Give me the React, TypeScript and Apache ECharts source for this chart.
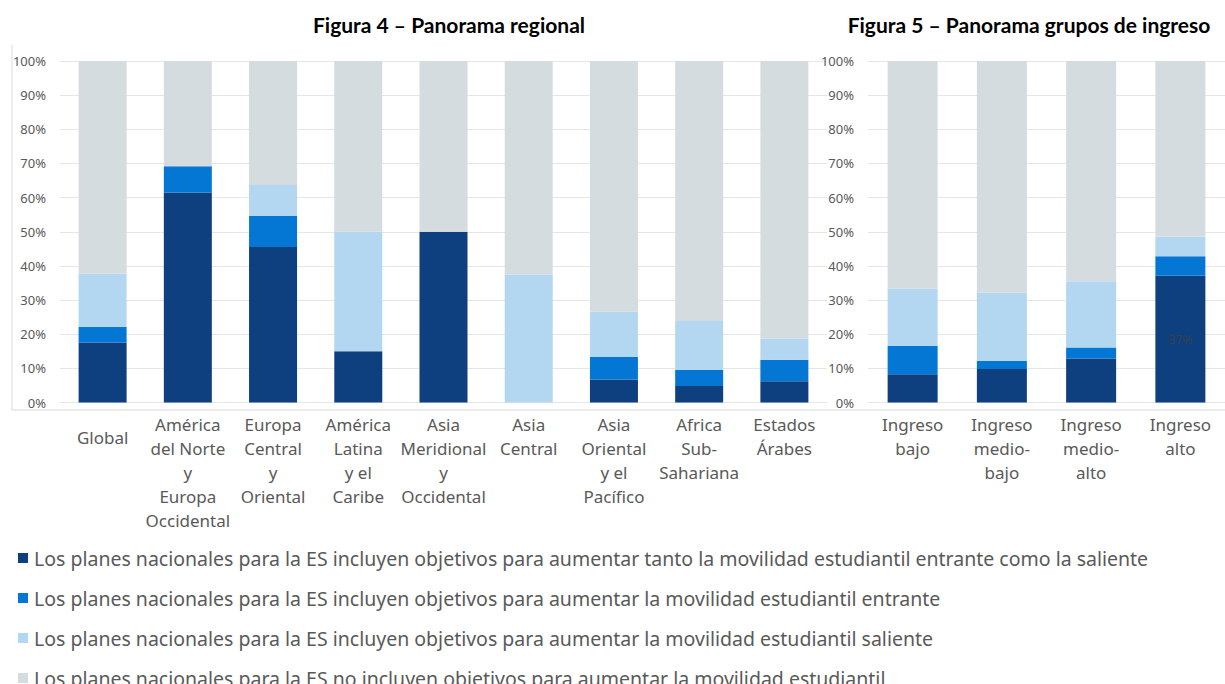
import React, { useEffect, useRef } from "react";
import * as echarts from "echarts";

const regionCategories = [
  "Global",
  "América\ndel Norte\ny\nEuropa\nOccidental",
  "Europa\nCentral\ny\nOriental",
  "América\nLatina\ny el\nCaribe",
  "Asia\nMeridional\ny\nOccidental",
  "Asia\nCentral",
  "Asia\nOriental\ny el\nPacífico",
  "Africa\nSub-\nSahariana",
  "Estados\nÁrabes",
];
const regionBoth = [17.6, 61.5, 45.5, 15, 50, 0, 6.7, 4.8, 6.25];
const regionIn = [4.6, 7.7, 9.1, 0, 0, 0, 6.6, 4.8, 6.25];
const regionOut = [15.5, 0, 9.1, 35, 0, 37.5, 13.3, 14.3, 6.25];
const regionNone = [62.3, 30.8, 36.3, 50, 50, 62.5, 73.4, 76.1, 81.25];

const incomeCategories = ["Ingreso\nbajo", "Ingreso\nmedio-\nbajo", "Ingreso\nmedio-\nalto", "Ingreso\nalto"];
const incomeBoth = [8.3, 9.8, 12.9, 37.1];
const incomeIn = [8.3, 2.4, 3.2, 5.7];
const incomeOut = [16.7, 20.0, 19.4, 5.7];
const incomeNone = [66.7, 67.8, 64.5, 51.5];

const seriesNames = [
  "Los planes nacionales para la ES incluyen objetivos para aumentar tanto la movilidad estudiantil entrante como la saliente",
  "Los planes nacionales para la ES incluyen objetivos para aumentar la movilidad estudiantil entrante",
  "Los planes nacionales para la ES incluyen objetivos para aumentar la movilidad estudiantil saliente",
  "Los planes nacionales para la ES no incluyen objetivos para aumentar la movilidad estudiantil",
];
const colors = ["#0E3F7E", "#0477D4", "#B3D6F1", "#D5DCE0"];

const titles = ["Figura 4 – Panorama regional", "Figura 5 – Panorama grupos de ingreso"];
const yTicks = { min: 0, max: 100, interval: 10 };

const FONT = "'Noto Sans', 'Open Sans', sans-serif";
const TEXT = "#595959";

export default function App() {
  const ref = useRef<HTMLDivElement>(null);
  useEffect(() => {
    if (!ref.current) return;
    const chart = echarts.init(ref.current, undefined, { renderer: "svg" });

    const yAxisBase = (gridIndex: number) => ({
      type: "value",
      gridIndex,
      min: yTicks.min,
      max: yTicks.max,
      interval: yTicks.interval,
      axisLine: { show: false },
      axisTick: { show: false },
      splitLine: { lineStyle: { color: "#E6E6E6", width: 1 } },
      axisLabel: {
        formatter: "{value}%",
        color: TEXT,
        fontFamily: FONT,
        fontSize: 13,
        margin: 14,
      },
    });

    const xAxisBase = (gridIndex: number, data: string[]) => ({
      type: "category",
      gridIndex,
      data,
      axisLine: { show: false },
      axisTick: { show: false },
      axisLabel: {
        interval: 0,
        color: TEXT,
        fontFamily: FONT,
        fontSize: 17,
        lineHeight: 24,
        margin: 10,
        formatter: (v: string) => (gridIndex === 0 && v === "Global" ? "{g|" + v + "}" : v),
        rich: {
          g: { color: TEXT, fontFamily: FONT, fontSize: 17, lineHeight: 24, padding: [26, 0, 0, 0] },
        },
      },
    });

    const mk = (name: string, data: any[], idx: number, gridIdx: number, width: number) => ({
      name,
      type: "bar",
      stack: "s" + gridIdx,
      xAxisIndex: gridIdx,
      yAxisIndex: gridIdx,
      barWidth: width,
      itemStyle: { color: colors[idx] },
      data,
    });

    const regionSets = [regionBoth, regionIn, regionOut, regionNone];
    const incomeSets = [incomeBoth, incomeIn, incomeOut, incomeNone];

    const series: any[] = [];
    regionSets.forEach((d, i) => series.push(mk(seriesNames[i], d, i, 0, 48)));
    incomeSets.forEach((d, i) => {
      const data =
        i === 0
          ? d.map((v, j) =>
              j === 3
                ? {
                    value: v,
                    label: {
                      show: true,
                      position: "inside",
                      color: "#3A3F4A",
                      fontFamily: FONT,
                      fontSize: 12,
                      formatter: (p: any) => Math.round(p.value) + "%",
                    },
                  }
                : v
            )
          : d;
      series.push(mk(seriesNames[i], data, i, 1, 50));
    });

    chart.setOption({
      animation: false,
      grid: [
        { left: 60, top: 61, width: 767, height: 341.5 },
        { left: 868, top: 61, width: 369, height: 341.5 },
      ],
      xAxis: [xAxisBase(0, regionCategories), xAxisBase(1, incomeCategories)],
      yAxis: [yAxisBase(0), yAxisBase(1)],
      legend: {
        orient: "vertical",
        left: 13,
        top: 542,
        height: 300,
        itemWidth: 10,
        itemHeight: 10,
        itemGap: 18,
        icon: "rect",
        data: seriesNames,
        textStyle: { color: TEXT, fontFamily: FONT, fontSize: 19.5, lineHeight: 22, padding: [0, 0, 0, 1] },
      },
      graphic: [
        {
          type: "line",
          shape: { x1: 12, y1: 45, x2: 12, y2: 410 },
          style: { stroke: "#D9D9D9", lineWidth: 1 },
          silent: true,
        },
        {
          type: "line",
          shape: { x1: 12, y1: 410, x2: 1225, y2: 410 },
          style: { stroke: "#D9D9D9", lineWidth: 1 },
          silent: true,
        },
        {
          type: "text",
          x: 449,
          y: 24,
          style: {
            text: titles[0],
            fontFamily: "Lato, 'Noto Sans', sans-serif",
            fontWeight: "bold",
            fontSize: 21,
            fill: "#000",
            textAlign: "center",
            textVerticalAlign: "middle",
          },
        },
        {
          type: "text",
          x: 1029,
          y: 24,
          style: {
            text: titles[1],
            fontFamily: "Lato, 'Noto Sans', sans-serif",
            fontWeight: "bold",
            fontSize: 21,
            fill: "#000",
            textAlign: "center",
            textVerticalAlign: "middle",
          },
        },
      ],
      series,
    });
    return () => chart.dispose();
  }, []);

  return (
    <div
      ref={ref}
      style={{ position: "absolute", left: 0, top: 0, width: 1225, height: 684, overflow: "hidden", background: "#fff" }}
    />
  );
}
